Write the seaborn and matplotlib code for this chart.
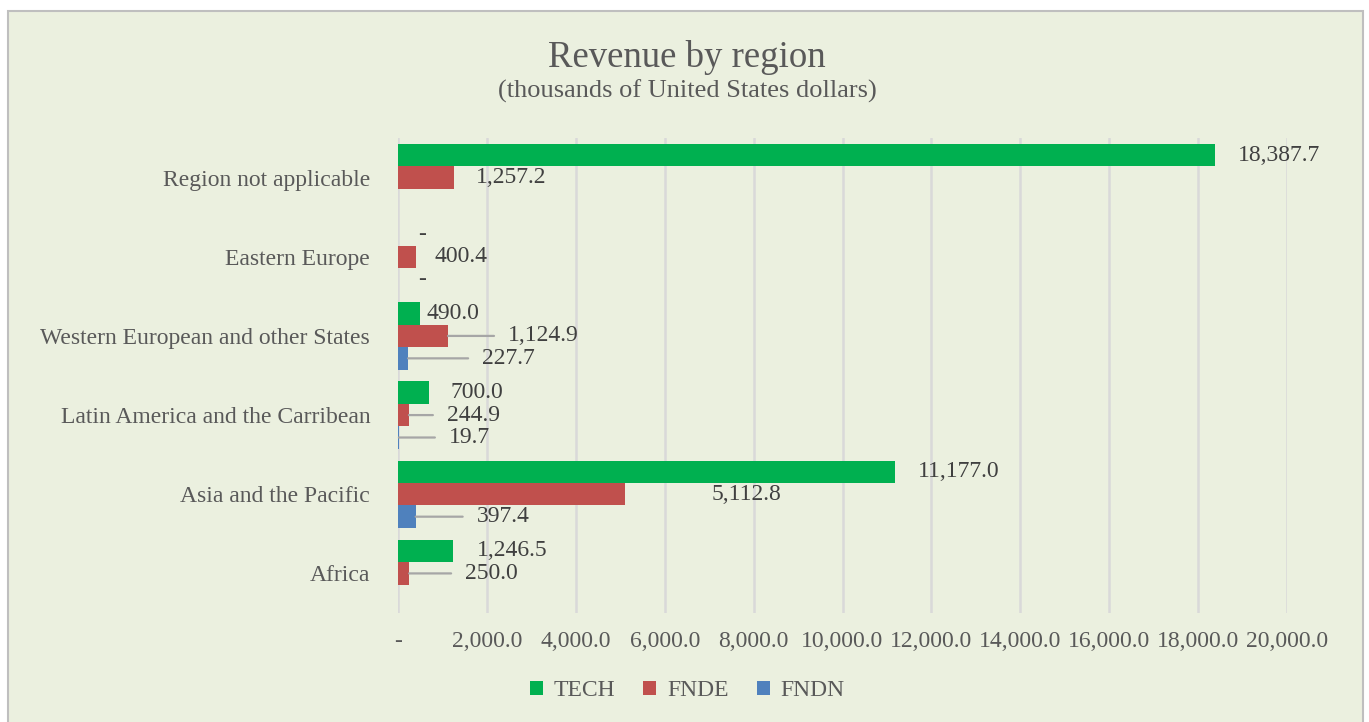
import numpy as np
import pandas as pd
import matplotlib
matplotlib.use("Agg")
import matplotlib.pyplot as plt
from matplotlib.patches import Rectangle
import seaborn as sns

# data (thousands of USD)
regions = ["Region not applicable", "Eastern Europe", "Western European and other States",
           "Latin America and the Carribean", "Asia and the Pacific", "Africa"]
series = ["TECH", "FNDE", "FNDN"]
tech = [18387.7, 0.0, 490.0, 700.0, 11177.0, 1246.5]
fnde = [1257.2, 400.4, 1124.9, 244.9, 5112.8, 250.0]
fndn = [np.nan, 0.0, 227.7, 19.7, 397.4, np.nan]
xticks = list(range(0, 20001, 2000))

colors = ["#00B050", "#C0504D", "#4F81BD"]

# label placement (pixel offset right of bar end, leader line yes/no), as hand-placed in the original
label_offsets = {
    "TECH": [(23, False), (20, False), (7, False), (21, False), (23, False), (24, False)],
    "FNDE": [(22, False), (19, False), (60, True), (38, True), (86, False), (56, True)],
    "FNDN": [(0, False), (20, False), (74, True), (50, True), (61, True), (0, False)],
}

df = pd.DataFrame({
    "Region": regions * 3,
    "Series": [s for s in series for _ in regions],
    "Value": tech + fnde + fndn,
})

sns.set_style("white")
plt.rcParams["font.family"] = ["Liberation Serif", "DejaVu Serif"]

W, H = 1369, 722
fig = plt.figure(figsize=(W / 100, H / 100), dpi=100, facecolor="white")
panel = Rectangle((8 / W, -0.01), (1363 - 8) / W, 1 - 11 / H + 0.01, transform=fig.transFigure,
                  facecolor="#EBF0DF", edgecolor="#BFBFBF", lw=1.5, zorder=-5)
fig.patches.append(panel)

ax = fig.add_axes([398 / W, 1 - 613 / H, (1287 - 398) / W, (613 - 138) / H])
ax.set_facecolor("none")

sns.barplot(data=df, y="Region", x="Value", hue="Series", order=regions, hue_order=series,
            palette=colors, orient="h", width=0.85, saturation=1, edgecolor="none", ax=ax,
            legend=True, zorder=3)

ax.set_xlim(0, 20000)
ax.set_ylim(5.5, -0.5)
ax.set_xticks(xticks)
ax.set_xticklabels(["-" if t == 0 else f"{t:,.1f}" for t in xticks])
ax.grid(axis="x", color="#D9D9D9", lw=1.8, zorder=0)
ax.grid(axis="y", visible=False)
ax.set_axisbelow(True)
for s in ax.spines.values():
    s.set_visible(False)
ax.tick_params(axis="both", length=0, labelsize=17, labelcolor="#595959")
ax.tick_params(axis="y", pad=20)
ax.tick_params(axis="x", pad=13)
ax.set_xlabel("")
ax.set_ylabel("")

# data labels
bar_h = 0.85 / 3
for i, name in enumerate(series):
    vals = df[df["Series"] == name]["Value"].tolist()
    for j, v in enumerate(vals):
        if np.isnan(v):
            continue
        y = j + (i - 1) * bar_h
        dx, leader = label_offsets[name][j]
        txt = "-" if v == 0 else f"{v:,.1f}"
        ax.annotate(txt, xy=(v, y), xytext=(dx, 0), textcoords="offset pixels",
                    ha="left", va="center", fontsize=17, color="#404040", zorder=5)
        if leader:
            ax.annotate("", xy=(v, y), xytext=(dx - 14, 0), textcoords="offset pixels",
                        arrowprops=dict(arrowstyle="-", color="#A6A6A6", lw=1.6,
                                        shrinkA=0, shrinkB=0), zorder=4)

handles, labels = ax.get_legend_handles_labels()
ax.legend_.remove()
fig.legend(handles, labels, loc="center", bbox_to_anchor=(0.502, 1 - 691 / H), ncol=3,
           frameon=False, fontsize=17, handlelength=0.55, handleheight=0.55,
           handletextpad=0.45, columnspacing=1.2, labelcolor="#595959")

fig.text(0.502, 1 - 67 / H, "Revenue by region", ha="center", va="baseline",
         fontsize=26.5, color="#595959")
fig.text(0.502, 1 - 98 / H, "(thousands of United States dollars)", ha="center", va="baseline",
         fontsize=19, color="#595959")

fig.savefig("out.png", dpi=100, facecolor=fig.get_facecolor())
